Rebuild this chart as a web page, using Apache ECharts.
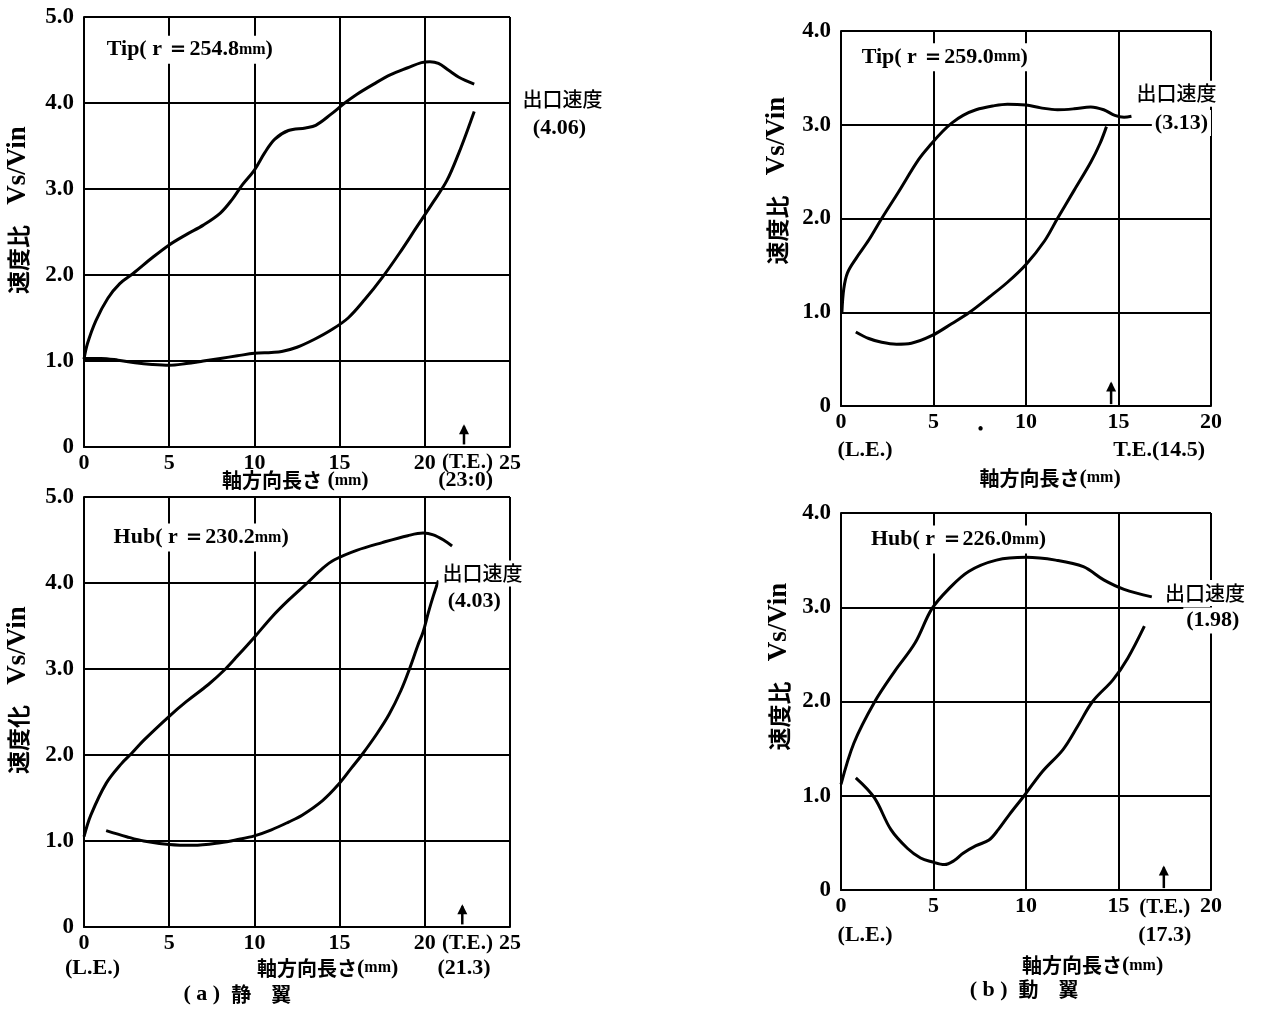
<!DOCTYPE html>
<html>
<head>
<meta charset="utf-8">
<title>速度比分布</title>
<script src="https://cdn.jsdelivr.net/npm/echarts@6/dist/echarts.min.js"></script>
<style>
  html, body { margin: 0; padding: 0; background: #fff; }
  #chart { width: 1269px; height: 1012px; }
</style>
</head>
<body>
<div id="chart"></div>
<script>
// ---- data: velocity ratio Vs/Vin along axial length (mm) ----
// (a) 静翼 Tip (r=254.8mm)
const statorTipUpper = [[0,1.02],[0.2,1.2],[0.7,1.47],[1.4,1.73],[2.1,1.9],[2.9,2.02],[4,2.2],[5,2.35],[6,2.47],[7,2.58],[8,2.72],[8.7,2.88],[9.3,3.05],[10,3.22],[10.6,3.42],[11.2,3.58],[12,3.68],[13,3.71],[13.6,3.74],[14.5,3.87],[15.3,4.0],[16,4.1],[17,4.22],[18,4.33],[19,4.41],[19.8,4.47],[20.3,4.48],[20.8,4.46],[21.4,4.38],[22,4.3],[22.9,4.22]];
const statorTipLower = [[0,1.03],[1,1.03],[2,1.01],[3,0.98],[4,0.96],[5,0.95],[6,0.97],[7,1.0],[8,1.03],[9,1.06],[10,1.09],[11,1.1],[11.6,1.11],[12.5,1.16],[13.5,1.25],[14.5,1.36],[15.5,1.5],[16.5,1.72],[17.5,1.97],[18.5,2.25],[19.5,2.55],[20.5,2.85],[21.3,3.1],[22,3.42],[22.5,3.68],[22.9,3.9]];
// (a) 静翼 Hub (r=230.2mm)
const statorHubUpper = [[0,1.05],[0.4,1.3],[1.3,1.67],[2.2,1.9],[2.8,2.02],[3.5,2.17],[5,2.45],[6,2.62],[7.3,2.82],[8.3,3.0],[9,3.15],[10,3.37],[11,3.6],[12,3.8],[13.1,4.0],[14,4.17],[14.7,4.27],[16,4.38],[17.5,4.47],[19,4.55],[19.9,4.58],[20.5,4.56],[21.1,4.5],[21.6,4.43]];
const statorHubLower = [[1.3,1.12],[2.5,1.05],[3.5,1.0],[5,0.96],[6.4,0.95],[8,0.98],[9.1,1.02],[10,1.06],[11,1.13],[12,1.22],[12.8,1.3],[14,1.47],[14.9,1.65],[15.7,1.85],[16.3,2.0],[17.2,2.25],[17.9,2.47],[18.6,2.75],[19.1,3.0],[19.6,3.28],[19.9,3.43],[20.2,3.65],[20.5,3.85],[20.8,4.03]];
// (b) 動翼 Tip (r=259.0mm)
const rotorTipUpper = [[0.05,1.0],[0.15,1.25],[0.35,1.42],[0.8,1.57],[1.5,1.77],[2.2,2.0],[3.1,2.28],[4.2,2.63],[4.9,2.8],[5.5,2.93],[6,3.02],[6.6,3.1],[7.3,3.16],[8.2,3.2],[9,3.22],[10,3.21],[10.8,3.18],[11.7,3.16],[12.6,3.17],[13.5,3.19],[14.2,3.16],[14.8,3.1],[15.3,3.08],[15.7,3.09]];
const rotorTipLower = [[0.8,0.79],[1.5,0.72],[2.2,0.68],[3,0.66],[3.8,0.67],[4.9,0.75],[6,0.88],[6.95,1.0],[8,1.16],[9,1.32],[10,1.51],[11,1.76],[11.7,2.0],[12.6,2.3],[13.5,2.6],[14,2.8],[14.35,2.98]];
// (b) 動翼 Hub (r=226.0mm)
const rotorHubUpper = [[0,1.12],[0.7,1.56],[1.8,1.99],[2.9,2.32],[4,2.62],[4.9,2.98],[5.8,3.19],[6.9,3.38],[8.4,3.5],[10,3.53],[11.6,3.5],[13.1,3.43],[14.2,3.29],[15.3,3.19],[16.8,3.11]];
const rotorHubLower = [[0.8,1.19],[1.8,0.98],[2.7,0.64],[3.6,0.44],[4.3,0.34],[4.9,0.3],[5.6,0.27],[6.1,0.31],[6.6,0.39],[7.3,0.47],[8,0.53],[8.5,0.64],[9.1,0.8],[9.9,1.0],[10.9,1.26],[12,1.49],[12.8,1.74],[13.6,2.0],[14.7,2.23],[15.5,2.46],[16.4,2.8]];

// axis ranges and trailing-edge arrow positions
const xMax = [25, 25, 20, 20];
const yMax = [5, 5, 4, 4];
const teArrowX = [22.3, 22.2, 14.6, 17.45];
const yTickFmt = v => (v === 0 ? '0' : v.toFixed(1));

const SERIF = '"Liberation Serif", "DejaVu Serif", serif';
const JP = '"Noto Sans CJK JP", sans-serif';

const grids = [
  { left: 84, top: 17, width: 426, height: 430 },
  { left: 84, top: 497, width: 426, height: 430 },
  { left: 841, top: 31, width: 370, height: 375 },
  { left: 841, top: 513, width: 370, height: 377 }
];
const yNames = ['速度比', '速度化', '速度比', '速度比'];
const yNameGap = [52, 52, 50, 48];
const yNameLift = [44, 44, 76, 70];

const chart = echarts.init(document.getElementById('chart'), null, { renderer: 'canvas' });

const lineStyle = { color: '#000', width: 3 };
const axisLineStyle = { color: '#000', width: 2 };

const xAxes = grids.map((g, i) => ({
  type: 'value', gridIndex: i, min: 0, max: xMax[i], interval: 5,
  axisLine: { show: true, lineStyle: axisLineStyle },
  axisTick: { show: false },
  splitLine: { show: true, lineStyle: axisLineStyle },
  axisLabel: {
    color: '#000', fontFamily: SERIF, fontWeight: 'bold', fontSize: 22, margin: 5,
    showMinLabel: true, showMaxLabel: true
  }
}));
const yAxes = grids.map((g, i) => ({
  type: 'value', gridIndex: i, min: 0, max: yMax[i], interval: 1,
  axisLine: { show: true, lineStyle: axisLineStyle },
  axisTick: { show: false },
  splitLine: { show: true, lineStyle: axisLineStyle },
  axisLabel: {
    color: '#000', fontFamily: SERIF, fontWeight: 'bold', fontSize: 23, margin: 10,
    formatter: yTickFmt, showMinLabel: true, showMaxLabel: true
  },
  // leading spacer lifts the rotated name above the axis middle
  name: '{c|}{a|' + yNames[i] + '}{b|   Vs/Vin}',
  nameLocation: 'middle', nameRotate: 90, nameGap: yNameGap[i],
  nameTextStyle: {
    rich: {
      c: { width: yNameLift[i] },
      a: { fontFamily: JP, fontWeight: 'bold', fontSize: 23, color: '#000' },
      b: { fontFamily: SERIF, fontWeight: 'bold', fontSize: 27, color: '#000' }
    }
  }
}));

const curves = [
  [statorTipUpper, 0], [statorTipLower, 0],
  [statorHubUpper, 1], [statorHubLower, 1],
  [rotorTipUpper, 2], [rotorTipLower, 2],
  [rotorHubUpper, 3], [rotorHubLower, 3]
];
const series = curves.map(([data, gi]) => ({
  type: 'line', xAxisIndex: gi, yAxisIndex: gi, data,
  smooth: 0.35, showSymbol: false, symbol: 'none',
  lineStyle, silent: true, z: 5
}));

chart.setOption({
  backgroundColor: '#fff',
  animation: false,
  grid: grids.map(g => Object.assign({ show: false, containLabel: false, outerBoundsMode: 'none' }, g)),
  xAxis: xAxes,
  yAxis: yAxes,
  series
});

// ---- annotations placed through each grid's coordinate system ----
const P = (gi, x, y) => chart.convertToPixel({ gridIndex: gi }, [x, y]);
const graphics = [];

function label(gi, x, y, text, opt) {
  const p = P(gi, x, y);
  const o = opt || {};
  graphics.push({
    type: 'text', x: p[0], y: p[1], z: 100,
    style: {
      text,
      fill: '#000',
      fontFamily: o.font || SERIF,
      fontWeight: o.weight || 'bold',
      fontSize: o.size || 22,
      align: o.align || 'center',
      verticalAlign: 'middle',
      backgroundColor: o.bg ? '#fff' : null,
      padding: o.bg ? [2, 3, 2, 3] : 0
    }
  });
}
function labelRich(gi, x, y, parts, opt) {
  const p = P(gi, x, y);
  const o = opt || {};
  graphics.push({
    type: 'text', x: p[0], y: p[1], z: 100,
    style: {
      text: parts.map(([k, t]) => '{' + k + '|' + t + '}').join(''),
      rich: {
        s: { fontFamily: SERIF, fontWeight: 'bold', fontSize: o.size || 22, fill: '#000' },
        j: { fontFamily: JP, fontWeight: o.jweight || 'bold', fontSize: o.jsize || 20, fill: '#000' },
        m: { fontFamily: SERIF, fontWeight: 'bold', fontSize: 16, fill: '#000' }
      },
      align: o.align || 'center',
      verticalAlign: 'middle',
      backgroundColor: o.bg ? '#fff' : null,
      padding: o.bg ? [3, 4, 3, 4] : 0
    }
  });
}
function arrow(gi, x, y0, y1) {
  const a = P(gi, x, y0), b = P(gi, x, y1);
  graphics.push({ type: 'line', z: 100, shape: { x1: a[0], y1: a[1], x2: b[0], y2: b[1] }, style: { stroke: '#000', lineWidth: 2.5 } });
  graphics.push({ type: 'polygon', z: 100, shape: { points: [[b[0] - 5, b[1] + 8], [b[0], b[1] - 2], [b[0] + 5, b[1] + 8]] }, style: { fill: '#000' } });
}

const tipHubText = (name, r) => [['s', name + '( r ＝' + r], ['m', 'mm'], ['s', ')']];

// (a) 静翼 Tip
labelRich(0, 1.1, 4.62, tipHubText('Tip', '254.8'), { align: 'left', bg: true });
labelRich(0, 25.5, 4.04, [['j', '出口速度']], { align: 'left', jweight: 500, bg: true });
label(0, 27.9, 3.7, '(4.06)');
label(0, 22.5, -0.18, '(T.E.)', { size: 21 });
labelRich(0, 12.4, -0.39, [['j', '軸方向長さ'], ['s', ' ('], ['m', 'mm'], ['s', ')']]);
label(0, 22.4, -0.39, '(23:0)');
arrow(0, teArrowX[0], 0.03, 0.24);

// (a) 静翼 Hub
labelRich(1, 1.5, 4.53, tipHubText('Hub', '230.2'), { align: 'left', bg: true });
labelRich(1, 20.8, 4.11, [['j', '出口速度']], { align: 'left', jweight: 500, bg: true });
label(1, 22.9, 3.79, '(4.03)');
label(1, 22.5, -0.19, '(T.E.)', { size: 21 });
label(1, 0.5, -0.48, '(L.E.)');
labelRich(1, 14.3, -0.48, [['j', '軸方向長さ'], ['s', '('], ['m', 'mm'], ['s', ')']]);
label(1, 22.3, -0.48, '(21.3)');
labelRich(1, 9.0, -0.78, [['s', '( a )  '], ['j', '静　翼']]);
arrow(1, teArrowX[1], 0.03, 0.24);

// (b) 動翼 Tip
labelRich(2, 0.9, 3.72, tipHubText('Tip', '259.0'), { align: 'left', bg: true });
labelRich(2, 15.75, 3.33, [['j', '出口速度']], { align: 'left', jweight: 500, bg: true });
label(2, 18.4, 3.02, '(3.13)', { bg: true });
label(2, 1.3, -0.47, '(L.E.)');
label(2, 17.2, -0.47, 'T.E.(14.5)');
labelRich(2, 11.3, -0.77, [['j', '軸方向長さ'], ['s', '('], ['m', 'mm'], ['s', ')']]);
label(2, 7.55, -0.25, '•', { size: 16 });
arrow(2, teArrowX[2], 0.02, 0.24);

// (b) 動翼 Hub
labelRich(3, 1.4, 3.72, tipHubText('Hub', '226.0'), { align: 'left', bg: true });
labelRich(3, 17.3, 3.15, [['j', '出口速度']], { align: 'left', jweight: 500, bg: true });
label(3, 20.1, 2.86, '(1.98)', { bg: true });
label(3, 17.5, -0.19, '(T.E.)', { size: 21 });
label(3, 1.3, -0.48, '(L.E.)');
label(3, 17.5, -0.48, '(17.3)');
labelRich(3, 13.6, -0.8, [['j', '軸方向長さ'], ['s', '('], ['m', 'mm'], ['s', ')']]);
labelRich(3, 9.9, -1.06, [['s', '( b )  '], ['j', '動　翼']]);
arrow(3, teArrowX[3], 0.02, 0.24);

chart.setOption({ graphic: graphics });
</script>
</body>
</html>
